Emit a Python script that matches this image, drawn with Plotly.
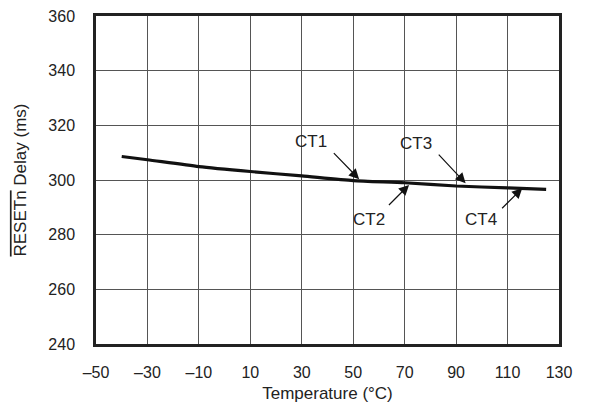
import plotly.graph_objects as go

# Data
temperature = [-40, -30, -10, 10, 30, 50, 70, 90, 110, 125]
delay_ms = [308.6, 307.4, 304.9, 303.1, 301.5, 299.8, 299.0, 297.8, 297.1, 296.6]

x_ticks = [-50, -30, -10, 10, 30, 50, 70, 90, 110, 130]
x_tick_labels = ["\u201350", "\u201330", "\u201310", "10", "30", "50", "70", "90", "110", "130"]
y_ticks = [240, 260, 280, 300, 320, 340, 360]

labels = ["CT1", "CT2", "CT3", "CT4"]
label_x = [33.5, 56.1, 74.3, 99.5]
label_y = [314.0, 285.4, 313.4, 285.4]
arrow_tail_x = [41.9, 63.3, 82.7, 107.3]
arrow_tail_y = [310.4, 290.3, 309.8, 289.1]
arrow_head_x = [52.3, 71.7, 93.7, 115.7]
arrow_head_y = [300.3, 298.2, 298.8, 297.0]

FONT = "Liberation Sans, Arial, Helvetica, sans-serif"
TXT = "#222222"

fig = go.Figure()
fig.add_trace(go.Scatter(
    x=temperature, y=delay_ms, mode="lines",
    line=dict(color="#111111", width=3.2, shape="spline", smoothing=0.6),
    showlegend=False, hoverinfo="skip",
))

annotations = []
for lab, lx, ly, tx, ty, hx, hy in zip(labels, label_x, label_y, arrow_tail_x, arrow_tail_y, arrow_head_x, arrow_head_y):
    annotations.append(dict(x=lx, y=ly, xref="x", yref="y", text=lab, showarrow=False,
                            font=dict(family=FONT, size=17, color=TXT)))
    annotations.append(dict(x=hx, y=hy, ax=tx, ay=ty, xref="x", yref="y", axref="x", ayref="y",
                            text="", showarrow=True, arrowhead=2, arrowsize=1.7, arrowwidth=1.2,
                            arrowcolor="#111111", standoff=0, startstandoff=0))

axis_common = dict(
    showgrid=True, gridcolor="#555555", gridwidth=1,
    showline=True, linecolor="#222222", linewidth=2.5, mirror=True,
    zeroline=False, ticks="", automargin=False, ticklabeloverflow="allow",
    tickfont=dict(family=FONT, size=16, color=TXT),
)

fig.update_layout(
    width=591, height=395,
    margin=dict(l=88, r=40, t=8, b=59),
    paper_bgcolor="white", plot_bgcolor="white",
    font=dict(family=FONT, size=16, color=TXT),
    xaxis=dict(range=[-50, 130], tickvals=x_ticks, ticktext=x_tick_labels,
               ticklabelstandoff=12,
               title=dict(text="Temperature (\u00b0C)", standoff=15,
                          font=dict(family=FONT, size=17, color=TXT)),
               **axis_common),
    yaxis=dict(range=[240, 360], tickvals=y_ticks,
               ticklabelstandoff=15,
               title=dict(text='<span style="text-decoration:overline">RESETn</span> Delay (ms)', standoff=18,
                          font=dict(family=FONT, size=17, color=TXT)),
               **axis_common),
    annotations=annotations,
)

fig.write_html("out.html")
